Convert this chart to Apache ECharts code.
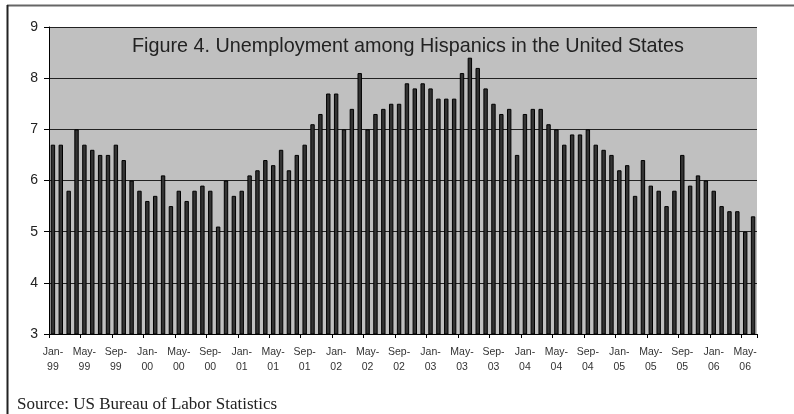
<!DOCTYPE html>
<html>
<head>
<meta charset="utf-8">
<script src="https://cdn.jsdelivr.net/npm/echarts@6/dist/echarts.min.js"></script>
<style>
html,body{margin:0;padding:0;background:#fff;}
#chart{width:794px;height:414px;}
</style>
</head>
<body>
<div id="chart"></div>
<script>
var monthNames = ['Jan','Feb','Mar','Apr','May','Jun','Jul','Aug','Sep','Oct','Nov','Dec'];
var years = ['99','00','01','02','03','04','05','06'];
var categories = [];
years.forEach(function (y) {
  monthNames.forEach(function (m) {
    if (categories.length < 90) categories.push(m + '-' + y);
  });
});

var unemployment = [
  6.7,6.7,5.8,7.0,6.7,6.6,6.5,6.5,6.7,6.4,6.0,5.8,5.6,5.7,6.1,
  5.5,5.8,5.6,5.8,5.9,5.8,5.1,6.0,5.7,5.8,6.1,6.2,6.4,6.3,6.6,
  6.2,6.5,6.7,7.1,7.3,7.7,7.7,7.0,7.4,8.1,7.0,7.3,7.4,7.5,7.5,
  7.9,7.8,7.9,7.8,7.6,7.6,7.6,8.1,8.4,8.2,7.8,7.5,7.3,7.4,6.5,
  7.3,7.4,7.4,7.1,7.0,6.7,6.9,6.9,7.0,6.7,6.6,6.5,6.2,6.3,5.7,
  6.4,5.9,5.8,5.5,5.8,6.5,5.9,6.1,6.0,5.8,5.5,5.4,5.4,5.0,5.3
];

var titleText = 'Figure 4. Unemployment among Hispanics in the United States';
var sourceText = 'Source: US Bureau of Labor Statistics';

var chart = echarts.init(document.getElementById('chart'), null, {renderer: 'canvas'});
chart.setOption({
  backgroundColor: '#ffffff',
  animation: false,
  grid: {
    left: 49, right: 37, top: 27, bottom: 80,
    show: true, backgroundColor: '#c0c0c0', borderWidth: 0
  },
  xAxis: {
    type: 'category',
    data: categories,
    boundaryGap: true,
    axisLine: {show: true, lineStyle: {color: '#000', width: 1}},
    axisTick: {show: true, interval: 3, length: 4, lineStyle: {color: '#000'}},
    axisLabel: {
      interval: 3,
      margin: 11,
      color: '#333',
      fontFamily: 'Liberation Sans, Arial, sans-serif',
      fontSize: 10.5,
      lineHeight: 15,
      formatter: function (v) { var p = v.split('-'); return p[0] + '-\n' + p[1]; }
    }
  },
  yAxis: {
    type: 'value',
    min: 3, max: 9, interval: 1,
    axisLine: {show: true, lineStyle: {color: '#000', width: 1}},
    axisTick: {show: true, length: 5, lineStyle: {color: '#000'}},
    axisLabel: {
      margin: 11, color: '#222', fontSize: 14,
      fontFamily: 'Liberation Sans, Arial, sans-serif'
    },
    splitLine: {show: true, lineStyle: {color: '#222', width: 1}}
  },
  series: [{
    type: 'bar',
    data: unemployment,
    barCategoryGap: '44%',
    itemStyle: {color: '#333333', borderColor: '#000', borderWidth: 1}
  }],
  graphic: [
    {type: 'line', shape: {x1: 7, y1: 5.5, x2: 794, y2: 5.5}, style: {stroke: '#666', lineWidth: 2}, z: 100},
    {type: 'line', shape: {x1: 7.5, y1: 5, x2: 7.5, y2: 414}, style: {stroke: '#222', lineWidth: 2}, z: 100},
    {type: 'text', x: 408, y: 47, z: 100,
      style: {text: titleText, textAlign: 'center', textVerticalAlign: 'middle',
        font: '19.8px "Liberation Sans", Arial, sans-serif', fill: '#222'}},
    {type: 'text', x: 17, y: 405, z: 100,
      style: {text: sourceText, textAlign: 'left', textVerticalAlign: 'middle',
        font: '17px "Liberation Serif", "Times New Roman", serif', fill: '#222'}}
  ]
});
</script>
</body>
</html>
